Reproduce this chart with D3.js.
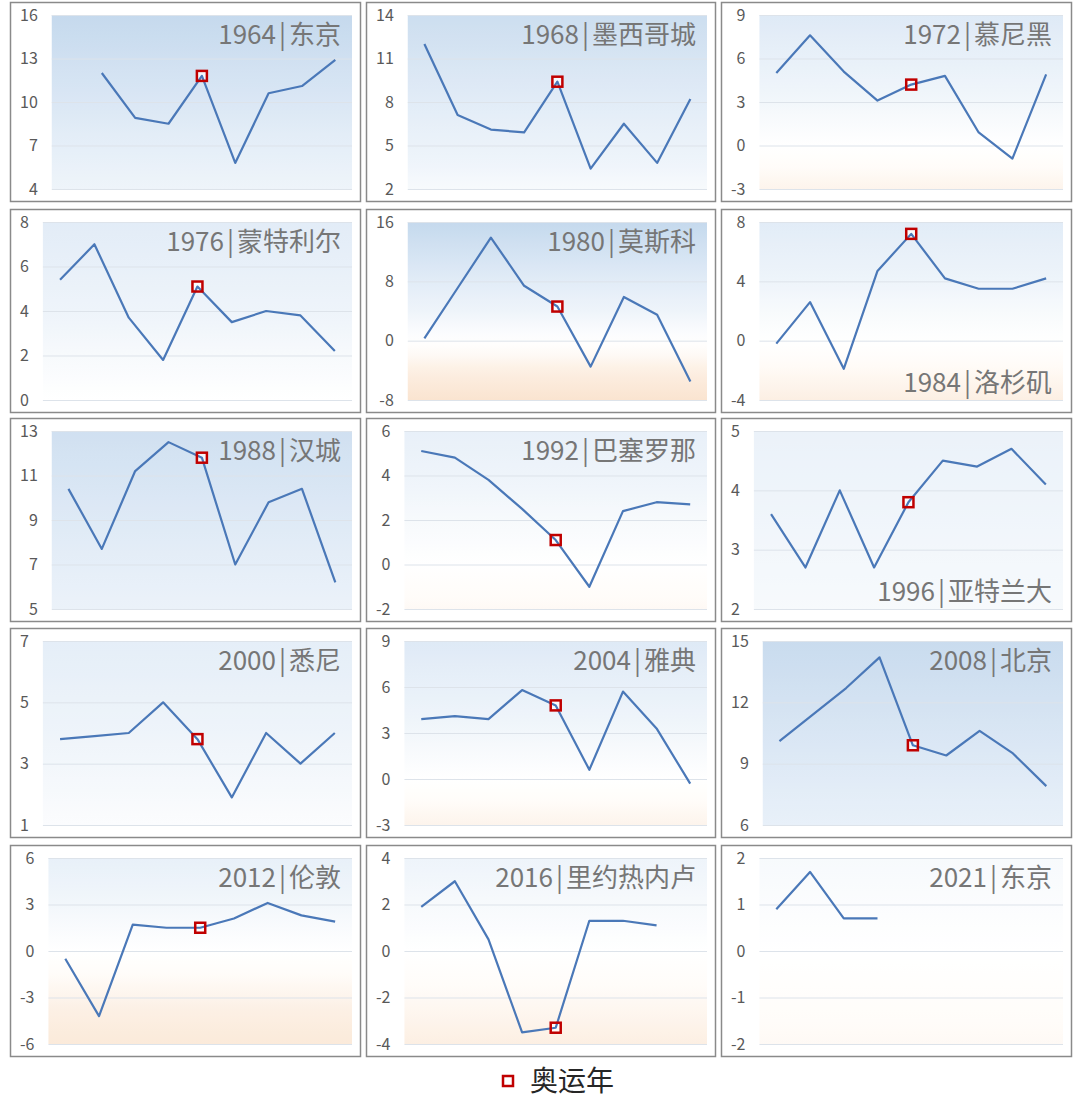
<!DOCTYPE html>
<html>
<head>
<meta charset="utf-8">
<script src="https://cdn.jsdelivr.net/npm/d3@7"></script>
<style>
  body { margin: 0; background: #fff; }
  text { font-family: "Noto Sans CJK SC", "Noto Sans", sans-serif; }
</style>
</head>
<body>
<svg width="1080" height="1100"></svg>
<script>
// data: 9 values per panel, olympic year is the 5th slot
var years = ["1964", "1968", "1972", "1976", "1980", "1984", "1988", "1992", "1996", "2000", "2004", "2008", "2012", "2016", "2021"];
var cities = ["东京", "墨西哥城", "慕尼黑", "蒙特利尔", "莫斯科", "洛杉矶", "汉城", "巴塞罗那", "亚特兰大", "悉尼", "雅典", "北京", "伦敦", "里约热内卢", "东京"];

var yTicks = [
  [4, 7, 10, 13, 16], [2, 5, 8, 11, 14], [-3, 0, 3, 6, 9],
  [0, 2, 4, 6, 8], [-8, 0, 8, 16], [-4, 0, 4, 8],
  [5, 7, 9, 11, 13], [-2, 0, 2, 4, 6], [2, 3, 4, 5],
  [1, 3, 5, 7], [-3, 0, 3, 6, 9], [6, 9, 12, 15],
  [-6, -3, 0, 3, 6], [-4, -2, 0, 2, 4], [-2, -1, 0, 1, 2]
];

var v1964 = [null, 12.0, 8.9, 8.5, 11.8, 5.8, 10.6, 11.1, 12.9];
var v1968 = [12.0, 7.1, 6.1, 5.9, 9.4, 3.4, 6.5, 3.8, 8.2];
var v1972 = [5.0, 7.6, 5.1, 3.1, 4.2, 4.8, 0.9, -0.9, 4.9];
var v1976 = [5.4, 7.0, 3.7, 1.8, 5.1, 3.5, 4.0, 3.8, 2.2];
var v1980 = [0.3, 7.1, 13.9, 7.4, 4.6, -3.5, 5.9, 3.5, -5.5];
var v1984 = [-0.2, 2.6, -1.9, 4.7, 7.2, 4.2, 3.5, 3.5, 4.2];
var v1988 = [10.4, 7.7, 11.2, 12.5, 11.8, 7.0, 9.8, 10.4, 6.2];
var v1992 = [5.1, 4.8, 3.8, 2.5, 1.1, -1.0, 2.4, 2.8, 2.7];
var v1996 = [3.6, 2.7, 4.0, 2.7, 3.8, 4.5, 4.4, 4.7, 4.1];
var v2000 = [3.8, 3.9, 4.0, 5.0, 3.8, 1.9, 4.0, 3.0, 4.0];
var v2004 = [3.9, 4.1, 3.9, 5.8, 4.8, 0.6, 5.7, 3.3, -0.3];
var v2008 = [10.1, 11.4, 12.7, 14.2, 9.9, 9.4, 10.6, 9.5, 7.9];
var v2012 = [-0.5, -4.2, 1.7, 1.5, 1.5, 2.1, 3.1, 2.3, 1.9];
var v2016 = [1.9, 3.0, 0.5, -3.5, -3.3, 1.3, 1.3, 1.1, null];
var v2021 = [0.9, 1.7, 0.7, 0.7, null, null, null, null, null];

var series = [v1964, v1968, v1972, v1976, v1980, v1984, v1988, v1992, v1996,
  v2000, v2004, v2008, v2012, v2016, v2021];

var olympicIndex = 4;
var titleAtBottom = ["1984", "1996"];
var legendLabel = "奥运年";

// background tint follows the value (blue above 0, peach well below it)
var bgValues = [-8, -4, -1.5, 0, 1.5, 4, 8, 16];
var bgColors = ["#fae4d0", "#fcefe3", "#fffcf9", "#ffffff", "#f9fbfd", "#eef4fa", "#e2ecf7", "#c5d9ed"];

// layout
var svg = d3.select("svg");
var defs = svg.append("defs");

var colX = [10, 366, 721], colW = [351, 350, 351];
var rowY = [2, 209, 418, 628, 845], rowH = [200, 204, 204, 210, 212];

var bg = d3.scaleLinear().domain(bgValues).range(bgColors).clamp(true);

function textWidth(s, size) {
  var t = svg.append("text").attr("font-size", size).text(s);
  var w = t.node().getComputedTextLength();
  t.remove();
  return w;
}

series.forEach(function(data, i) {
  var col = i % 3,
    row = Math.floor(i / 3);
  var left = colX[col],
    top = rowY[row],
    w = colW[col],
    h = rowH[row];
  var ticks = yTicks[i];

  var labelW = d3.max(ticks, function(d) {
    return textWidth(String(d), 16);
  });
  var plotL = left + 10 + labelW + 14,
    plotR = left + w - 9,
    plotT = top + 13,
    plotB = top + h - 13;

  var x = d3.scaleBand().domain(d3.range(data.length)).range([plotL, plotR]);
  var y = d3.scaleLinear().domain(d3.extent(ticks)).range([plotB, plotT]);

  var g = svg.append("g");

  // panel frame
  g.append("rect")
    .attr("x", left + 0.5)
    .attr("y", top + 0.5)
    .attr("width", w - 1)
    .attr("height", h - 1)
    .attr("fill", "#fff")
    .attr("stroke", "#8a8a8a")
    .attr("stroke-width", 1.5);

  // plot area gradient
  var gid = "bg" + i;
  var grad = defs.append("linearGradient")
    .attr("id", gid)
    .attr("gradientUnits", "userSpaceOnUse")
    .attr("x1", 0).attr("x2", 0)
    .attr("y1", plotT).attr("y2", plotB);
  var dom = y.domain();
  d3.range(17).forEach(function(k) {
    var t = k / 16;
    grad.append("stop")
      .attr("offset", t)
      .attr("stop-color", bg(dom[1] - t * (dom[1] - dom[0])));
  });

  g.append("rect")
    .attr("x", plotL)
    .attr("y", plotT)
    .attr("width", plotR - plotL)
    .attr("height", plotB - plotT)
    .attr("fill", "url(#" + gid + ")");

  // gridlines
  var grid = g.append("g")
    .attr("transform", "translate(" + plotL + ",0)")
    .call(d3.axisLeft(y).tickValues(ticks).tickSize(-(plotR - plotL)).tickFormat(""));
  grid.select(".domain").remove();
  grid.selectAll(".tick line").attr("stroke", "#dde3ea").attr("stroke-width", 1);

  // tick labels
  var axis = g.append("g")
    .attr("transform", "translate(" + plotL + ",0)")
    .call(d3.axisLeft(y).tickValues(ticks).tickSize(0).tickPadding(14)
      .tickFormat(function(d) { return String(d); }));
  axis.select(".domain").remove();
  axis.selectAll("text")
    .attr("font-size", 16)
    .attr("fill", "#595959")
    .style("font-family", '"Noto Sans CJK SC", sans-serif');

  // title: year | city
  var bottom = titleAtBottom.indexOf(years[i]) >= 0;
  var title = g.append("text")
    .attr("x", plotR - 11)
    .attr("y", bottom ? plotB - 8 : plotT + 29)
    .attr("text-anchor", "end")
    .attr("font-size", 26)
    .attr("fill", "#767676");
  title.append("tspan").text(years[i]);
  title.append("tspan").attr("dx", 3).text("|");
  title.append("tspan").attr("dx", 3).text(cities[i]);

  // line
  var line = d3.line()
    .defined(function(d) { return d != null; })
    .x(function(d, j) { return x(j) + x.bandwidth() / 2; })
    .y(function(d) { return y(d); });

  var mv = data[olympicIndex];
  var mx = x(olympicIndex) + x.bandwidth() / 2;

  if (mv != null) {
    g.append("rect")
      .attr("x", mx - 5)
      .attr("y", y(mv) - 5)
      .attr("width", 10)
      .attr("height", 10)
      .attr("fill", "#fff")
      .attr("fill-opacity", 0.75);
  }

  g.append("path")
    .datum(data)
    .attr("fill", "none")
    .attr("stroke", "#4a78b8")
    .attr("stroke-width", 2.2)
    .attr("stroke-linejoin", "round")
    .attr("d", line);

  if (mv != null) {
    g.append("rect")
      .attr("x", mx - 5)
      .attr("y", y(mv) - 5)
      .attr("width", 10)
      .attr("height", 10)
      .attr("fill", "none")
      .attr("stroke", "#c00000")
      .attr("stroke-width", 2.5);
  }
});

// legend
var legend = svg.append("g").attr("transform", "translate(508,1081)");
legend.append("rect")
  .attr("x", -5)
  .attr("y", -5)
  .attr("width", 10)
  .attr("height", 10)
  .attr("fill", "#fff")
  .attr("stroke", "#c00000")
  .attr("stroke-width", 2.5);
legend.append("text")
  .attr("x", 22)
  .attr("y", 0)
  .attr("dy", "0.36em")
  .attr("font-size", 28)
  .attr("fill", "#262626")
  .text(legendLabel);
</script>
</body>
</html>
